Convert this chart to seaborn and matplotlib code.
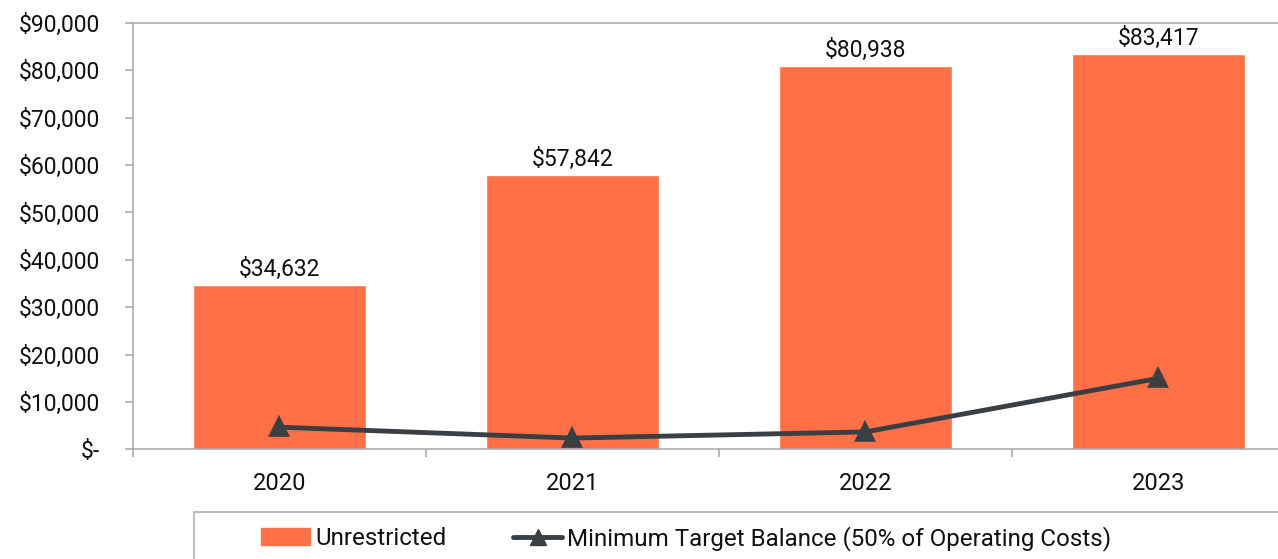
import matplotlib
matplotlib.use("Agg")
import matplotlib.pyplot as plt
import matplotlib.patches as mpatches
from matplotlib.lines import Line2D
from matplotlib.ticker import FuncFormatter, FixedLocator
import seaborn as sns

# chart data
years = ["2020", "2021", "2022", "2023"]
unrestricted = [34632, 57842, 80938, 83417]
min_target = [4700, 2400, 3700, 15000]

bar_color = "#FF7047"
line_color = "#3A3F44"
spine_color = "#A6A6A6"

sns.set_theme(style="white")
plt.rcParams["font.family"] = ["Roboto", "DejaVu Sans"]
plt.rcParams["font.size"] = 16

fig = plt.figure(figsize=(12.78, 5.59), dpi=100)
ax = fig.add_axes([0.104, 0.196, 0.917, 0.763])

sns.barplot(x=years, y=unrestricted, color=bar_color, width=0.59,
            saturation=1, ax=ax)
sns.pointplot(x=years, y=min_target, color=line_color, markers="^",
              linestyles="-", linewidth=3.5, markersize=11, ax=ax)

ax.bar_label(ax.containers[0], fmt="${:,.0f}", padding=3, fontsize=16.5,
             color="#111111")

ax.set_ylim(0, 90000)
ax.set_xlim(-0.5, 3.5)
ax.set_yticks(range(0, 90001, 10000))
ax.yaxis.set_major_formatter(FuncFormatter(
    lambda v, p: "$-" if v == 0 else "${:,.0f}".format(v)))
ax.xaxis.set_minor_locator(FixedLocator([-0.5, 0.5, 1.5, 2.5, 3.5]))
ax.tick_params(axis="x", which="major", length=0, pad=16, labelsize=17,
               labelcolor="#111111")
ax.tick_params(axis="x", which="minor", length=6, width=1.1,
               color=spine_color, direction="out", bottom=True)
ax.tick_params(axis="y", length=6, width=1.1, color=spine_color,
               left=True, pad=18, labelsize=16.5, labelcolor="#111111")
ax.set_xlabel("")
ax.set_ylabel("")

for side in ["left", "bottom", "top"]:
    ax.spines[side].set_color(spine_color)
    ax.spines[side].set_linewidth(1.1)
ax.spines["right"].set_visible(False)

# legend with box running off the figure edge
box = mpatches.Rectangle((0.1518, -0.05), 0.9, 0.134, transform=fig.transFigure,
                         fill=False, edgecolor="#BFBFBF", linewidth=1.5,
                         clip_on=False)
fig.add_artist(box)
handles = [mpatches.Patch(color=bar_color, label="Unrestricted"),
           Line2D([], [], color=line_color, lw=3.5, marker="^", markersize=11,
                  label="Minimum Target Balance (50% of Operating Costs)")]
fig.legend(handles=handles, loc="center left", bbox_to_anchor=(0.204, 0.037),
           ncol=2, frameon=False, borderpad=0, borderaxespad=0,
           handlelength=2.05, handletextpad=0.2, columnspacing=2.75,
           fontsize=17.4, labelcolor="#111111")

fig.savefig("out.png", dpi=100)
